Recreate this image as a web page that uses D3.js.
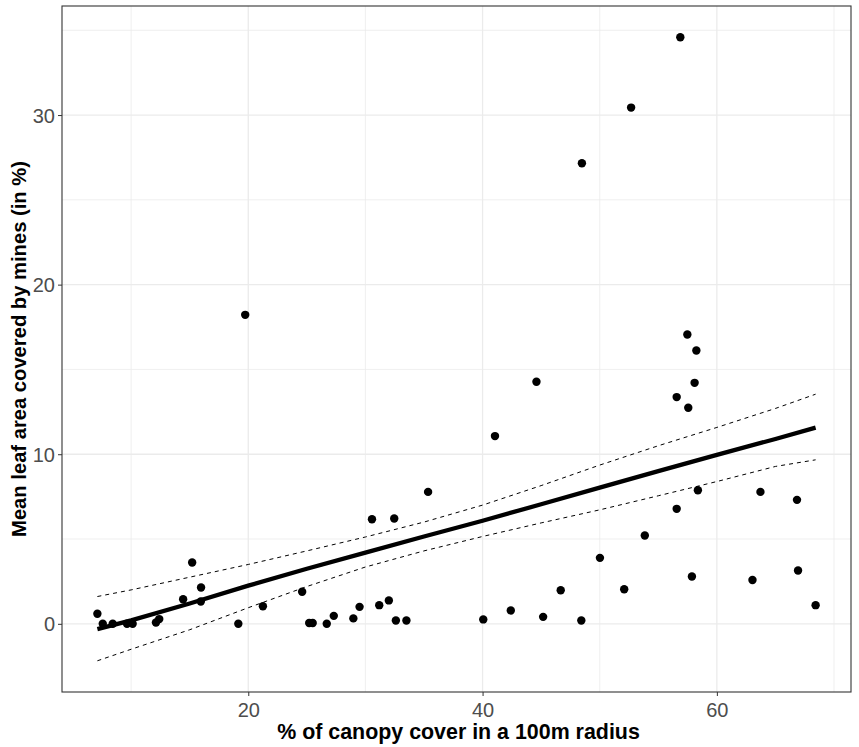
<!DOCTYPE html>
<html>
<head>
<meta charset="utf-8">
<script src="https://cdn.jsdelivr.net/npm/d3@7"></script>
<style>
  html, body { margin: 0; padding: 0; background: #fff; }
  svg { display: block; }
</style>
</head>
<body>
<svg id="chart" width="859" height="747"></svg>
<script>
// ---- Data ----
const canopyCover = [7.12, 7.58, 8.43, 9.65, 10.13, 12.12, 12.4, 14.44, 15.21, 15.97, 15.95, 19.15, 19.74, 21.25,
  24.6, 25.2, 25.5, 26.7, 27.3, 28.97, 29.5, 30.56, 31.18, 32.0, 32.46, 32.6, 33.5, 35.35,
  40.06, 41.06, 44.6, 42.41, 45.17, 46.67, 48.43, 48.48, 50.02, 52.09, 52.68, 53.85,
  56.88, 57.48, 58.25, 58.1, 56.57, 57.56, 58.38, 56.57, 57.87, 63.72, 63.04, 66.84, 66.93, 68.43];
const leafMined = [0.59, 0.0, 0.0, 0.0, 0.0, 0.08, 0.28, 1.45, 3.62, 2.14, 1.32, 0.0, 18.22, 1.04,
  1.89, 0.05, 0.05, 0.0, 0.47, 0.32, 1.0, 6.17, 1.10, 1.38, 6.21, 0.2, 0.2, 7.78,
  0.26, 11.07, 14.27, 0.79, 0.41, 1.98, 0.2, 27.16, 3.89, 2.04, 30.44, 5.21,
  34.59, 17.06, 16.12, 14.21, 13.37, 12.74, 7.88, 6.78, 2.79, 7.78, 2.58, 7.31, 3.14, 1.10];

// fitted line and confidence band
const fitX     = [7.12, 10, 15, 20, 25, 30, 35, 40, 45, 50, 55, 60, 65, 68.43];
const fitY     = [-0.31, 0.2, 1.2, 2.25, 3.25, 4.2, 5.15, 6.08, 7.05, 8.03, 9.0, 9.96, 10.9, 11.57];
const fitUpper = [1.61, 2.0, 2.75, 3.5, 4.3, 5.12, 6.0, 7.0, 8.15, 9.36, 10.5, 11.58, 12.7, 13.54];
const fitLower = [-2.18, -1.5, -0.35, 0.95, 2.2, 3.35, 4.3, 5.15, 5.95, 6.72, 7.55, 8.39, 9.28, 9.67];

const xTicks = [20, 40, 60];
const xMinor = [10, 30, 50, 70];
const yTicks = [0, 10, 20, 30];
const yMinor = [5, 15, 25, 35];

const xTitle = "% of canopy cover in a 100m radius";
const yTitle = "Mean leaf area covered by mines (in %)";

// ---- Layout ----
const panel = { left: 62, right: 851, top: 6, bottom: 692 };
const svg = d3.select("#chart");

const x = d3.scaleLinear().domain([4.1, 71.45]).range([panel.left, panel.right]);
const y = d3.scaleLinear().domain([-4.02, 36.43]).range([panel.bottom, panel.top]);

const g = svg.append("g");

// grid
g.append("g").selectAll("line").data(xMinor).join("line")
  .attr("x1", d => x(d)).attr("x2", d => x(d))
  .attr("y1", panel.top).attr("y2", panel.bottom)
  .attr("stroke", "#ebebeb").attr("stroke-width", 0.8);
g.append("g").selectAll("line").data(yMinor).join("line")
  .attr("y1", d => y(d)).attr("y2", d => y(d))
  .attr("x1", panel.left).attr("x2", panel.right)
  .attr("stroke", "#ebebeb").attr("stroke-width", 0.8);
g.append("g").selectAll("line").data(xTicks).join("line")
  .attr("x1", d => x(d)).attr("x2", d => x(d))
  .attr("y1", panel.top).attr("y2", panel.bottom)
  .attr("stroke", "#ebebeb").attr("stroke-width", 1.3);
g.append("g").selectAll("line").data(yTicks).join("line")
  .attr("y1", d => y(d)).attr("y2", d => y(d))
  .attr("x1", panel.left).attr("x2", panel.right)
  .attr("stroke", "#ebebeb").attr("stroke-width", 1.3);

// points
g.append("g").selectAll("circle").data(canopyCover.map((c, i) => [c, leafMined[i]])).join("circle")
  .attr("cx", d => x(d[0])).attr("cy", d => y(d[1])).attr("r", 4.2)
  .attr("fill", "#000");

// band lines
const fitData = fitX.map((v, i) => ({ x: v, y: fitY[i], lo: fitLower[i], hi: fitUpper[i] }));
g.append("path").datum(fitData)
  .attr("d", d3.line().x(d => x(d.x)).y(d => y(d.hi)))
  .attr("fill", "none").attr("stroke", "#000").attr("stroke-width", 1)
  .attr("stroke-dasharray", "4,4");
g.append("path").datum(fitData)
  .attr("d", d3.line().x(d => x(d.x)).y(d => y(d.lo)))
  .attr("fill", "none").attr("stroke", "#000").attr("stroke-width", 1)
  .attr("stroke-dasharray", "4,4");
g.append("path").datum(fitData)
  .attr("d", d3.line().x(d => x(d.x)).y(d => y(d.y)))
  .attr("fill", "none").attr("stroke", "#000").attr("stroke-width", 4.3)
  .attr("stroke-linecap", "butt");

// panel border
g.append("rect")
  .attr("x", panel.left).attr("y", panel.top)
  .attr("width", panel.right - panel.left).attr("height", panel.bottom - panel.top)
  .attr("fill", "none").attr("stroke", "#333").attr("stroke-width", 1.1);

// axes
const xAxis = d3.axisBottom(x).tickValues(xTicks).tickSize(4).tickPadding(3);
const yAxis = d3.axisLeft(y).tickValues(yTicks).tickSize(4).tickPadding(3);

const gx = svg.append("g").attr("transform", `translate(0,${panel.bottom})`).call(xAxis);
const gy = svg.append("g").attr("transform", `translate(${panel.left},0)`).call(yAxis);
[gx, gy].forEach(a => {
  a.select(".domain").remove();
  a.selectAll(".tick line").attr("stroke", "#333");
  a.selectAll(".tick text")
    .attr("fill", "#4d4d4d")
    .style("font-family", "'Liberation Sans', Arial, sans-serif")
    .style("font-size", "20px");
});
gx.selectAll(".tick text").attr("dy", "0.9em");
gy.selectAll(".tick text").attr("dy", "0.35em");

// titles
svg.append("text")
  .attr("x", (panel.left + panel.right) / 2 + 2).attr("y", 739)
  .attr("text-anchor", "middle")
  .style("font-family", "'Liberation Sans', Arial, sans-serif")
  .style("font-size", "21.4px").style("font-weight", "bold")
  .attr("fill", "#000")
  .text(xTitle);

svg.append("text")
  .attr("transform", `translate(26,${(panel.top + panel.bottom) / 2}) rotate(-90)`)
  .attr("text-anchor", "middle")
  .style("font-family", "'Liberation Sans', Arial, sans-serif")
  .style("font-size", "20.2px").style("font-weight", "bold")
  .attr("fill", "#000")
  .text(yTitle);
</script>
</body>
</html>
